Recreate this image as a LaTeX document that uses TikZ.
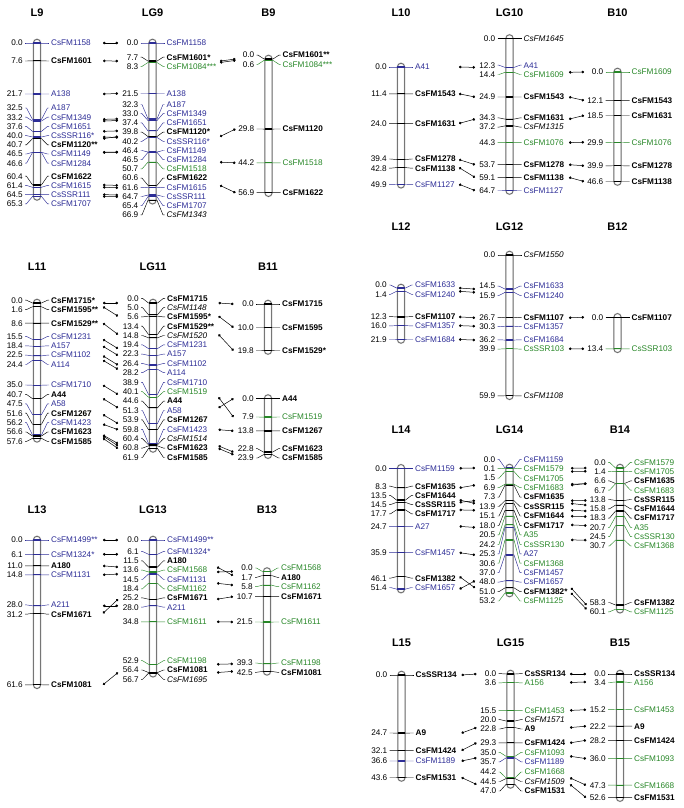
\documentclass[tikz,border=0pt]{standalone}
\usepackage{fontspec}
\setmainfont{Liberation Sans}
\usetikzlibrary{arrows.meta}
\definecolor{mblue}{RGB}{45,45,150}
\definecolor{mgreen}{RGB}{40,135,40}
\newcommand\lblfont{\fontsize{8.2}{9}\selectfont}
\newcommand\mscale{2.35}
\newcommand\defmap[5]{%
  \expandafter\def\csname mapx:#1\endcsname{#2}%
  \expandafter\def\csname mapy:#1\endcsname{#3}%
  \expandafter\def\csname mapl:#1\endcsname{#4}%
  \expandafter\def\csname mapr:#1\endcsname{#5}}
\newcommand\chrbar[2]{%
  \pgfmathsetmacro\cxb{\csname mapx:#1\endcsname}%
  \pgfmathsetmacro\cya{\csname mapy:#1\endcsname}%
  \pgfmathsetmacro\cyb{\cya+#2*\mscale}%
  \draw[barshade] (\cxb-3.6,\cya-3.8) rectangle (\cxb+3.6,\cyb+3.8);
  \draw[barline] (\cxb-3.6,\cya-3.8) rectangle (\cxb+3.6,\cyb+3.8);}
\newcommand\mkr[6]{%
  \pgfmathsetmacro\cxb{\csname mapx:#1\endcsname}%
  \pgfmathsetmacro\cym{\csname mapy:#1\endcsname+#3*\mscale}%
  \draw[leader,#5] (\cxb-12,#4) -- (\cxb-10.5,#4) -- (\cxb-4.5,\cym) -- (\cxb+4.5,\cym) -- (\cxb+10.5,#4) -- (\cxb+12,#4);
  \draw[mline,#5] (\cxb-3.6,\cym) -- (\cxb+3.6,\cym);
  \node[num,anchor=east] (#1-#2-n) at (\cxb-14,#4) {#3};
  \node[lab,#5,anchor=west] (#1-#2-t) at (\cxb+14,#4) {#6};
  \coordinate (#1-#2-L) at (\csname mapl:#1\endcsname,\cym);
  \coordinate (#1-#2-R) at (\csname mapr:#1\endcsname,\cym);}
\newcommand\cnx[3]{\draw[conn] (#1-#3-R) -- (#2-#3-L);}
\newcommand\ttl[3]{\node[title] (t#1) at (#2,#3) {#1};}

\defmap{L9}{37}{43}{0}{103}
\defmap{LG9}{152.5}{43}{118}{220}
\defmap{B9}{268.5}{59}{235.5}{0}
\defmap{L11}{37}{303}{0}{103}
\defmap{LG11}{153}{303}{118}{218.5}
\defmap{B11a}{268}{304}{233.5}{0}
\defmap{B11b}{268}{398.5}{233.5}{0}
\defmap{L13}{37}{540}{0}{103}
\defmap{LG13}{153}{540}{118}{217}
\defmap{B13}{267}{571.5}{233}{0}
\defmap{L10}{401}{67}{0}{459}
\defmap{LG10}{509.5}{38.5}{475}{569}
\defmap{B10}{617.5}{72}{584}{0}
\defmap{L12}{401}{288}{0}{459}
\defmap{LG12}{509.5}{255}{475}{569}
\defmap{B12}{617.5}{317.3}{584}{0}
\defmap{L14}{401}{468.3}{0}{459.5}
\defmap{LG14}{509.5}{468}{475}{571}
\defmap{B14}{620}{468}{586.5}{0}
\defmap{L15}{401.5}{675}{0}{461.5}
\defmap{LG15}{510.5}{674}{476.5}{570}
\defmap{B15}{620}{674}{586}{0}

\begin{document}
\begin{tikzpicture}[x=1pt,y=-1pt,
  barshade/.style={rounded corners=3.6pt, draw=gray!45, line width=1.5pt, fill=white},
  barline/.style={rounded corners=3.6pt, draw=black!70, line width=0.45pt},
  leader/.style={line width=0.45pt},
  mline/.style={line width=1.2pt},
  num/.style={font=\lblfont, inner sep=0pt, text=black},
  lab/.style={font=\lblfont, inner sep=0pt},
  blu/.style={color=mblue},
  grn/.style={color=mgreen},
  blk/.style={color=black, font=\lblfont\bfseries},
  ita/.style={color=black, font=\lblfont\itshape},
  conn/.style={line width=0.5pt, black, {Circle[length=2.6pt]}-{Circle[length=2.6pt]}},
  title/.style={font=\fontsize{11}{13}\selectfont\bfseries, inner sep=0pt}]
\useasboundingbox (0,0) rectangle (683,808);

% titles
\ttl{L9}{37}{13}\ttl{LG9}{152.5}{13}\ttl{B9}{268.5}{13}
\ttl{L10}{401}{13}\ttl{LG10}{509.5}{13}\ttl{B10}{617.5}{13}
\ttl{L11}{37}{267}\ttl{LG11}{153}{267}\ttl{B11}{268}{267}
\ttl{L12}{401}{227}\ttl{LG12}{509.5}{227}\ttl{B12}{617.5}{227}
\ttl{L13}{37}{510}\ttl{LG13}{153}{510}\ttl{B13}{267}{510}
\ttl{L14}{401}{430}\ttl{LG14}{509.5}{430}\ttl{B14}{620}{430}
\ttl{L15}{401.5}{643}\ttl{LG15}{510.5}{643}\ttl{B15}{620}{643}

% ---------------- L9
\chrbar{L9}{65.3}
\mkr{L9}{CsFM1158}{0.0}{43}{blu}{CsFM1158}
\mkr{L9}{CsFM1601}{7.6}{61}{blk}{CsFM1601}
\mkr{L9}{A138}{21.7}{94}{blu}{A138}
\mkr{L9}{A187}{32.5}{108}{blu}{A187}
\mkr{L9}{CsFM1349}{33.2}{117.2}{blu}{CsFM1349}
\mkr{L9}{CsFM1651}{37.6}{126.4}{blu}{CsFM1651}
\mkr{L9}{CsSSR116}{40.0}{135.6}{blu}{CsSSR116*}
\mkr{L9}{CsFM1120}{40.7}{144.8}{blk}{CsFM1120**}
\mkr{L9}{CsFM1149}{46.5}{154}{blu}{CsFM1149}
\mkr{L9}{CsFM1284}{46.6}{163.2}{blu}{CsFM1284}
\mkr{L9}{CsFM1622}{60.4}{176.2}{blk}{CsFM1622}
\mkr{L9}{CsFM1615}{61.4}{185.4}{blu}{CsFM1615}
\mkr{L9}{CsSSR111}{64.5}{194.6}{blu}{CsSSR111}
\mkr{L9}{CsFM1707}{65.3}{203.8}{blu}{CsFM1707}
% ---------------- LG9
\chrbar{LG9}{66.9}
\mkr{LG9}{CsFM1158}{0.0}{43}{blu}{CsFM1158}
\mkr{LG9}{CsFM1601}{7.7}{57.2}{blk}{CsFM1601*}
\mkr{LG9}{CsFM1084}{8.3}{66.4}{grn}{CsFM1084***}
\mkr{LG9}{A138}{21.5}{93.5}{blu}{A138}
\mkr{LG9}{A187}{32.3}{104.5}{blu}{A187}
\mkr{LG9}{CsFM1349}{33.0}{113.7}{blu}{CsFM1349}
\mkr{LG9}{CsFM1651}{37.4}{122.9}{blu}{CsFM1651}
\mkr{LG9}{CsFM1120}{39.8}{132.1}{blk}{CsFM1120*}
\mkr{LG9}{CsSSR116}{40.2}{141.3}{blu}{CsSSR116*}
\mkr{LG9}{CsFM1149}{46.4}{150.5}{blu}{CsFM1149}
\mkr{LG9}{CsFM1284}{46.5}{159.7}{blu}{CsFM1284}
\mkr{LG9}{CsFM1518}{50.7}{168.9}{grn}{CsFM1518}
\mkr{LG9}{CsFM1622}{60.6}{178.1}{blk}{CsFM1622}
\mkr{LG9}{CsFM1615}{61.6}{187.3}{blu}{CsFM1615}
\mkr{LG9}{CsSSR111}{64.7}{196.5}{blu}{CsSSR111}
\mkr{LG9}{CsFM1707}{65.4}{205.7}{blu}{CsFM1707}
\mkr{LG9}{CsFM1343}{66.9}{214.9}{ita}{CsFM1343}
% ---------------- B9
\chrbar{B9}{56.9}
\mkr{B9}{CsFM1601}{0.0}{55.1}{blk}{CsFM1601**}
\mkr{B9}{CsFM1084}{0.6}{64.3}{grn}{CsFM1084***}
\mkr{B9}{CsFM1120}{29.8}{129}{blk}{CsFM1120}
\mkr{B9}{CsFM1518}{44.2}{162.9}{grn}{CsFM1518}
\mkr{B9}{CsFM1622}{56.9}{192.7}{blk}{CsFM1622}
% connectors 9
\foreach \m in {CsFM1158,CsFM1601,A138,A187,CsFM1349,CsFM1651,CsSSR116,CsFM1120,CsFM1149,CsFM1284,CsFM1622,CsFM1615,CsSSR111,CsFM1707}{\cnx{L9}{LG9}{\m}}
\foreach \m in {CsFM1601,CsFM1084,CsFM1120,CsFM1518,CsFM1622}{\cnx{LG9}{B9}{\m}}

% ---------------- L10
\chrbar{L10}{49.9}
\mkr{L10}{A41}{0.0}{67}{blu}{A41}
\mkr{L10}{CsFM1543}{11.4}{93.8}{blk}{CsFM1543}
\mkr{L10}{CsFM1631}{24.0}{123.4}{blk}{CsFM1631}
\mkr{L10}{CsFM1278}{39.4}{159}{blk}{CsFM1278}
\mkr{L10}{CsFM1138}{42.8}{168.2}{blk}{CsFM1138}
\mkr{L10}{CsFM1127}{49.9}{184.3}{blu}{CsFM1127}
% ---------------- LG10
\chrbar{LG10}{64.7}
\mkr{LG10}{CsFM1645}{0.0}{38.5}{ita}{CsFM1645}
\mkr{LG10}{A41}{12.3}{65.2}{blu}{A41}
\mkr{LG10}{CsFM1609}{14.4}{74.5}{grn}{CsFM1609}
\mkr{LG10}{CsFM1543}{24.9}{97}{blk}{CsFM1543}
\mkr{LG10}{CsFM1631}{34.3}{117.9}{blk}{CsFM1631}
\mkr{LG10}{CsFM1315}{37.2}{127.1}{ita}{CsFM1315}
\mkr{LG10}{CsFM1076}{44.3}{142.6}{grn}{CsFM1076}
\mkr{LG10}{CsFM1278}{53.7}{164.7}{blk}{CsFM1278}
\mkr{LG10}{CsFM1138}{59.1}{177.4}{blk}{CsFM1138}
\mkr{LG10}{CsFM1127}{64.7}{190.5}{blu}{CsFM1127}
% ---------------- B10
\chrbar{B10}{46.6}
\mkr{B10}{CsFM1609}{0.0}{72}{grn}{CsFM1609}
\mkr{B10}{CsFM1543}{12.1}{100.4}{blk}{CsFM1543}
\mkr{B10}{CsFM1631}{18.5}{115.5}{blk}{CsFM1631}
\mkr{B10}{CsFM1076}{29.9}{142.3}{grn}{CsFM1076}
\mkr{B10}{CsFM1278}{39.9}{165.8}{blk}{CsFM1278}
\mkr{B10}{CsFM1138}{46.6}{181.5}{blk}{CsFM1138}
\foreach \m in {A41,CsFM1543,CsFM1631,CsFM1278,CsFM1138,CsFM1127}{\cnx{L10}{LG10}{\m}}
\foreach \m in {CsFM1609,CsFM1543,CsFM1631,CsFM1076,CsFM1278,CsFM1138}{\cnx{LG10}{B10}{\m}}

% ---------------- L11
\chrbar{L11}{57.6}
\mkr{L11}{CsFM1715}{0.0}{300.2}{blk}{CsFM1715*}
\mkr{L11}{CsFM1595}{1.6}{309.6}{blk}{CsFM1595**}
\mkr{L11}{CsFM1529}{8.6}{323.2}{blk}{CsFM1529**}
\mkr{L11}{CsFM1231}{15.5}{336.4}{blu}{CsFM1231}
\mkr{L11}{A157}{18.4}{345.8}{blu}{A157}
\mkr{L11}{CsFM1102}{22.5}{355.1}{blu}{CsFM1102}
\mkr{L11}{A114}{24.4}{364.5}{blu}{A114}
\mkr{L11}{CsFM1710}{35.0}{385}{blu}{CsFM1710}
\mkr{L11}{A44}{40.7}{394.4}{blk}{A44}
\mkr{L11}{A58}{47.5}{403.8}{blu}{A58}
\mkr{L11}{CsFM1267}{51.6}{413.2}{blk}{CsFM1267}
\mkr{L11}{CsFM1423}{56.2}{422.6}{blu}{CsFM1423}
\mkr{L11}{CsFM1623}{56.6}{432}{blk}{CsFM1623}
\mkr{L11}{CsFM1585}{57.6}{441.4}{blk}{CsFM1585}
% ---------------- LG11
\chrbar{LG11}{61.9}
\mkr{LG11}{CsFM1715}{0.0}{298.3}{blk}{CsFM1715}
\mkr{LG11}{CsFM1148}{5.0}{307.6}{ita}{CsFM1148}
\mkr{LG11}{CsFM1595}{5.6}{316.9}{blk}{CsFM1595*}
\mkr{LG11}{CsFM1529}{13.4}{326.2}{blk}{CsFM1529**}
\mkr{LG11}{CsFM1520}{14.8}{335.5}{ita}{CsFM1520}
\mkr{LG11}{CsFM1231}{19.4}{344.8}{blu}{CsFM1231}
\mkr{LG11}{A157}{22.3}{354.1}{blu}{A157}
\mkr{LG11}{CsFM1102}{26.4}{363.4}{blu}{CsFM1102}
\mkr{LG11}{A114}{28.2}{372.7}{blu}{A114}
\mkr{LG11}{CsFM1710}{38.9}{382.3}{blu}{CsFM1710}
\mkr{LG11}{CsFM1519}{40.1}{391.7}{grn}{CsFM1519}
\mkr{LG11}{A44}{44.6}{401.1}{blk}{A44}
\mkr{LG11}{A58}{51.3}{410.5}{blu}{A58}
\mkr{LG11}{CsFM1267}{53.9}{419.9}{blk}{CsFM1267}
\mkr{LG11}{CsFM1423}{59.8}{429.3}{blu}{CsFM1423}
\mkr{LG11}{CsFM1514}{60.4}{438.7}{ita}{CsFM1514}
\mkr{LG11}{CsFM1623}{60.8}{448.1}{blk}{CsFM1623}
\mkr{LG11}{CsFM1585}{61.9}{457.5}{blk}{CsFM1585}
% ---------------- B11
\chrbar{B11a}{19.8}
\mkr{B11a}{CsFM1715}{0.0}{304}{blk}{CsFM1715}
\mkr{B11a}{CsFM1595}{10.0}{327.5}{blk}{CsFM1595}
\mkr{B11a}{CsFM1529}{19.8}{350.5}{blk}{CsFM1529*}
\chrbar{B11b}{23.9}
\mkr{B11b}{A44}{0.0}{398.5}{blk}{A44}
\mkr{B11b}{CsFM1519}{7.9}{417}{grn}{CsFM1519}
\mkr{B11b}{CsFM1267}{13.8}{430.9}{blk}{CsFM1267}
\mkr{B11b}{CsFM1623}{22.8}{448.7}{blk}{CsFM1623}
\mkr{B11b}{CsFM1585}{23.9}{458}{blk}{CsFM1585}
\foreach \m in {CsFM1715,CsFM1595,CsFM1529,CsFM1231,A157,CsFM1102,A114,CsFM1710,A44,A58,CsFM1267,CsFM1423,CsFM1623,CsFM1585}{\cnx{L11}{LG11}{\m}}
\foreach \m in {CsFM1715,CsFM1595,CsFM1529}{\cnx{LG11}{B11a}{\m}}
\foreach \m in {A44,CsFM1519,CsFM1267,CsFM1623,CsFM1585}{\cnx{LG11}{B11b}{\m}}

% ---------------- L12
\chrbar{L12}{21.9}
\mkr{L12}{CsFM1633}{0.0}{285}{blu}{CsFM1633}
\mkr{L12}{CsFM1240}{1.4}{294.3}{blu}{CsFM1240}
\mkr{L12}{CsFM1107}{12.3}{316.6}{blk}{CsFM1107}
\mkr{L12}{CsFM1357}{16.0}{325.9}{blu}{CsFM1357}
\mkr{L12}{CsFM1684}{21.9}{339.5}{blu}{CsFM1684}
% ---------------- LG12
\chrbar{LG12}{59.9}
\mkr{LG12}{CsFM1550}{0.0}{255}{ita}{CsFM1550}
\mkr{LG12}{CsFM1633}{14.5}{286.1}{blu}{CsFM1633}
\mkr{LG12}{CsFM1240}{15.9}{295.4}{blu}{CsFM1240}
\mkr{LG12}{CsFM1107}{26.7}{317.3}{blk}{CsFM1107}
\mkr{LG12}{CsFM1357}{30.3}{326.6}{blu}{CsFM1357}
\mkr{LG12}{CsFM1684}{36.2}{339.8}{blu}{CsFM1684}
\mkr{LG12}{CsSSR103}{39.9}{349.1}{grn}{CsSSR103}
\mkr{LG12}{CsFM1108}{59.9}{395.8}{ita}{CsFM1108}
% ---------------- B12
\chrbar{B12}{13.4}
\mkr{B12}{CsFM1107}{0.0}{317.3}{blk}{CsFM1107}
\mkr{B12}{CsSSR103}{13.4}{348.8}{grn}{CsSSR103}
\foreach \m in {CsFM1633,CsFM1240,CsFM1107,CsFM1357,CsFM1684}{\cnx{L12}{LG12}{\m}}
\foreach \m in {CsFM1107,CsSSR103}{\cnx{LG12}{B12}{\m}}

% ---------------- L13
\chrbar{L13}{61.6}
\mkr{L13}{CsFM1499}{0.0}{540}{blu}{CsFM1499**}
\mkr{L13}{CsFM1324}{6.1}{554.3}{blu}{CsFM1324*}
\mkr{L13}{A180}{11.0}{565.9}{blk}{A180}
\mkr{L13}{CsFM1131}{14.8}{574.8}{blu}{CsFM1131}
\mkr{L13}{A211}{28.0}{604.9}{blu}{A211}
\mkr{L13}{CsFM1671}{31.2}{614.2}{blk}{CsFM1671}
\mkr{L13}{CsFM1081}{61.6}{684.8}{blk}{CsFM1081}
% ---------------- LG13
\chrbar{LG13}{56.7}
\mkr{LG13}{CsFM1499}{0.0}{540}{blu}{CsFM1499**}
\mkr{LG13}{CsFM1324}{6.1}{551.4}{blu}{CsFM1324*}
\mkr{LG13}{A180}{11.5}{560.8}{blk}{A180}
\mkr{LG13}{CsFM1568}{13.6}{570.1}{grn}{CsFM1568}
\mkr{LG13}{CsFM1131}{14.5}{579.5}{blu}{CsFM1131}
\mkr{LG13}{CsFM1162}{18.4}{588.8}{grn}{CsFM1162}
\mkr{LG13}{CsFM1671}{25.2}{597.8}{blk}{CsFM1671}
\mkr{LG13}{A211}{28.0}{607.2}{blu}{A211}
\mkr{LG13}{CsFM1611}{34.8}{621.8}{grn}{CsFM1611}
\mkr{LG13}{CsFM1198}{52.9}{660.7}{grn}{CsFM1198}
\mkr{LG13}{CsFM1081}{56.4}{670}{blk}{CsFM1081}
\mkr{LG13}{CsFM1695}{56.7}{679.4}{ita}{CsFM1695}
% ---------------- B13
\chrbar{B13}{42.5}
\mkr{B13}{CsFM1568}{0.0}{568}{grn}{CsFM1568}
\mkr{B13}{A180}{1.7}{577.4}{blk}{A180}
\mkr{B13}{CsFM1162}{5.8}{586.7}{grn}{CsFM1162}
\mkr{B13}{CsFM1671}{10.7}{596.6}{blk}{CsFM1671}
\mkr{B13}{CsFM1611}{21.5}{622}{grn}{CsFM1611}
\mkr{B13}{CsFM1198}{39.3}{663}{grn}{CsFM1198}
\mkr{B13}{CsFM1081}{42.5}{672.3}{blk}{CsFM1081}
\foreach \m in {CsFM1499,CsFM1324,A180,CsFM1131,A211,CsFM1671,CsFM1081}{\cnx{L13}{LG13}{\m}}
\foreach \m in {CsFM1568,A180,CsFM1162,CsFM1671,CsFM1611,CsFM1198,CsFM1081}{\cnx{LG13}{B13}{\m}}

% ---------------- L14
\chrbar{L14}{51.4}
\mkr{L14}{CsFM1159}{0.0}{468.3}{blu}{CsFM1159}
\mkr{L14}{CsFM1635}{8.3}{486.2}{blk}{CsFM1635}
\mkr{L14}{CsFM1644}{13.5}{495.4}{blk}{CsFM1644}
\mkr{L14}{CsSSR115}{14.5}{504.6}{blk}{CsSSR115}
\mkr{L14}{CsFM1717}{17.7}{513.8}{blk}{CsFM1717}
\mkr{L14}{A27}{24.7}{526.3}{blu}{A27}
\mkr{L14}{CsFM1457}{35.9}{552.7}{blu}{CsFM1457}
\mkr{L14}{CsFM1382}{46.1}{578.2}{blk}{CsFM1382}
\mkr{L14}{CsFM1657}{51.4}{587.5}{blu}{CsFM1657}
% ---------------- LG14
\chrbar{LG14}{53.2}
\mkr{LG14}{CsFM1159}{0.0}{459.3}{blu}{CsFM1159}
\mkr{LG14}{CsFM1579}{0.1}{468.7}{grn}{CsFM1579}
\mkr{LG14}{CsFM1705}{1.5}{478.2}{grn}{CsFM1705}
\mkr{LG14}{CsFM1683}{6.9}{487.6}{grn}{CsFM1683}
\mkr{LG14}{CsFM1635}{7.3}{497.1}{blk}{CsFM1635}
\mkr{LG14}{CsSSR115}{13.9}{506.5}{blk}{CsSSR115}
\mkr{LG14}{CsFM1644}{15.1}{516}{blk}{CsFM1644}
\mkr{LG14}{CsFM1717}{18.0}{525.4}{blk}{CsFM1717}
\mkr{LG14}{A35}{20.5}{534.9}{grn}{A35}
\mkr{LG14}{CsSSR130}{24.2}{544.3}{grn}{CsSSR130}
\mkr{LG14}{A27}{25.3}{553.8}{blu}{A27}
\mkr{LG14}{CsFM1368}{30.6}{563.2}{grn}{CsFM1368}
\mkr{LG14}{CsFM1457}{37.0}{572.7}{blu}{CsFM1457}
\mkr{LG14}{CsFM1657}{48.0}{582.1}{blu}{CsFM1657}
\mkr{LG14}{CsFM1382}{51.0}{591.6}{blk}{CsFM1382*}
\mkr{LG14}{CsFM1125}{53.2}{601}{grn}{CsFM1125}
% ---------------- B14
\chrbar{B14}{60.1}
\mkr{B14}{CsFM1579}{0.0}{462.3}{grn}{CsFM1579}
\mkr{B14}{CsFM1705}{1.4}{471.6}{grn}{CsFM1705}
\mkr{B14}{CsFM1635}{6.6}{480.9}{blk}{CsFM1635}
\mkr{B14}{CsFM1683}{6.7}{490.2}{grn}{CsFM1683}
\mkr{B14}{CsSSR115}{13.8}{499.5}{blk}{CsSSR115}
\mkr{B14}{CsFM1644}{15.8}{508.8}{blk}{CsFM1644}
\mkr{B14}{CsFM1717}{18.3}{518.1}{blk}{CsFM1717}
\mkr{B14}{A35}{20.7}{527.4}{grn}{A35}
\mkr{B14}{CsSSR130}{24.5}{536.7}{grn}{CsSSR130}
\mkr{B14}{CsFM1368}{30.7}{546}{grn}{CsFM1368}
\mkr{B14}{CsFM1382}{58.3}{602.5}{blk}{CsFM1382}
\mkr{B14}{CsFM1125}{60.1}{611.8}{grn}{CsFM1125}
\foreach \m in {CsFM1159,CsFM1635,CsFM1644,CsSSR115,CsFM1717,A27,CsFM1457,CsFM1382,CsFM1657}{\cnx{L14}{LG14}{\m}}
\foreach \m in {CsFM1579,CsFM1705,CsFM1683,CsFM1635,CsSSR115,CsFM1644,CsFM1717,A35,CsSSR130,CsFM1368,CsFM1382,CsFM1125}{\cnx{LG14}{B14}{\m}}

% ---------------- L15
\chrbar{L15}{43.6}
\mkr{L15}{CsSSR134}{0.0}{675}{blk}{CsSSR134}
\mkr{L15}{A9}{24.7}{733}{blk}{A9}
\mkr{L15}{CsFM1424}{32.1}{750.4}{blk}{CsFM1424}
\mkr{L15}{CsFM1189}{36.6}{761}{blu}{CsFM1189}
\mkr{L15}{CsFM1531}{43.6}{777.5}{blk}{CsFM1531}
% ---------------- LG15
\chrbar{LG15}{47.0}
\mkr{LG15}{CsSSR134}{0.0}{673.6}{blk}{CsSSR134}
\mkr{LG15}{A156}{3.6}{682.9}{grn}{A156}
\mkr{LG15}{CsFM1453}{15.5}{710.4}{grn}{CsFM1453}
\mkr{LG15}{CsFM1571}{20.0}{719.6}{ita}{CsFM1571}
\mkr{LG15}{A9}{22.8}{729}{blk}{A9}
\mkr{LG15}{CsFM1424}{29.3}{742.9}{blk}{CsFM1424}
\mkr{LG15}{CsFM1093}{35.0}{752.4}{grn}{CsFM1093}
\mkr{LG15}{CsFM1189}{35.7}{761.8}{blu}{CsFM1189}
\mkr{LG15}{CsFM1668}{44.2}{772}{grn}{CsFM1668}
\mkr{LG15}{CsFM1509}{44.5}{781.5}{ita}{CsFM1509}
\mkr{LG15}{CsFM1531}{47.0}{791}{blk}{CsFM1531}
% ---------------- B15
\chrbar{B15}{52.6}
\mkr{B15}{CsSSR134}{0.0}{674}{blk}{CsSSR134}
\mkr{B15}{A156}{3.4}{682.5}{grn}{A156}
\mkr{B15}{CsFM1453}{15.2}{709.7}{grn}{CsFM1453}
\mkr{B15}{A9}{22.2}{726.2}{blk}{A9}
\mkr{B15}{CsFM1424}{28.2}{740.3}{blk}{CsFM1424}
\mkr{B15}{CsFM1093}{36.0}{758.6}{grn}{CsFM1093}
\mkr{B15}{CsFM1668}{47.3}{785.2}{grn}{CsFM1668}
\mkr{B15}{CsFM1531}{52.6}{797.6}{blk}{CsFM1531}
\foreach \m in {CsSSR134,A9,CsFM1424,CsFM1189,CsFM1531}{\cnx{L15}{LG15}{\m}}
\foreach \m in {CsSSR134,A156,CsFM1453,A9,CsFM1424,CsFM1093,CsFM1668,CsFM1531}{\cnx{LG15}{B15}{\m}}
\end{tikzpicture}
\end{document}
